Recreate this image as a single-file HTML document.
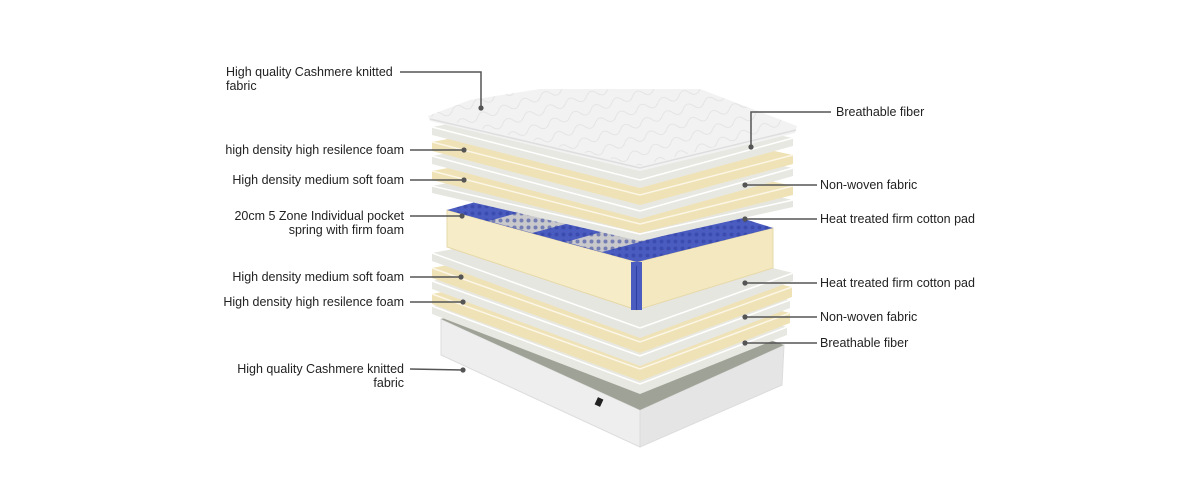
<!DOCTYPE html>
<html><head><meta charset="utf-8"><style>
html,body{margin:0;padding:0;background:#fff;}
svg{display:block}
text{font-family:"Liberation Sans",sans-serif;font-size:12.5px;fill:#222;}
</style></head><body>
<svg width="1201" height="504" viewBox="0 0 1201 504" xmlns="http://www.w3.org/2000/svg">
<defs>
<pattern id="dots" width="7" height="7" patternUnits="userSpaceOnUse">
<circle cx="3.5" cy="3.5" r="2" fill="#2f3f9e" opacity="0.55"/>
</pattern>
<pattern id="quilt" width="22" height="14" patternUnits="userSpaceOnUse" patternTransform="rotate(-18)">
<path d="M0 7 Q5.5 0 11 7 Q16.5 14 22 7" fill="none" stroke="#e0e0e0" stroke-width="0.8"/>
</pattern>
</defs>

<!-- base -->
<polygon points="441,319 640,410 640,447 441,355" fill="#efeeee" stroke="#dcdcdc" stroke-width="1"/>
<polygon points="640,410 784,345 782,385 640,447" fill="#e6e5e6" stroke="#dcdcdc" stroke-width="1"/>
<polygon points="441,319 585,272 784,345 640,410" fill="#9fa397"/>
<rect x="596" y="398" width="6" height="8" fill="#222" transform="rotate(25 599 402)"/>

<!-- lower layers -->
<polygon points="432,306 590,276 787,327 787,335 640,394 432,314" fill="#e8e8e2"/>
<polyline points="432,306 640,384 787,327" fill="none" stroke="#fff" stroke-width="1.5"/>
<polygon points="432,294 590,264 790,313 790,323 640,381 432,304" fill="#efe2b6"/>
<polyline points="432,294 640,369 790,313" fill="none" stroke="#fbf6e6" stroke-width="1.5"/>
<polygon points="432,281 590,251 790,300 790,308 640,366 432,289" fill="#e8e8e2"/>
<polyline points="432,281 640,356 790,300" fill="none" stroke="#fff" stroke-width="1.5"/>
<polygon points="432,268 590,238 792,287 792,297 640,353 432,278" fill="#efe2b6"/>
<polyline points="432,268 640,342 792,287" fill="none" stroke="#fbf6e6" stroke-width="1.5"/>
<polygon points="432,253 590,223 793,273 793,281 640,338 432,261" fill="#e6e6e0"/>
<polyline points="432,253 640,328 793,273" fill="none" stroke="#fff" stroke-width="1.5"/>

<!-- spring block -->
<polygon points="447,210 637,262 637,310 447,247" fill="#f6ecc8" stroke="#e6d8a8" stroke-width="1"/>
<polygon points="637,262 773,228 773,268 637,310" fill="#f4e8c0" stroke="#e6d8a8" stroke-width="1"/>
<polygon points="447,210 590,170 773,228 637,262" fill="#4a5cc0"/>
<polygon points="489,221 632,181 675,195 532,233" fill="#c9c9cc"/>
<polygon points="566,242 709,202 745,214 602,252" fill="#c9c9cc"/>
<polygon points="447,210 590,170 773,228 637,262" fill="url(#dots)"/>
<rect x="631" y="262" width="11" height="48" fill="#4a5cc0"/>
<line x1="636.5" y1="266" x2="636.5" y2="310" stroke="#2f3f9e" stroke-width="1"/>

<!-- upper layers -->
<polygon points="432,186 590,156 793,200 793,207 640,241 432,193" fill="#e6e6e0"/>
<polyline points="432,186 640,234 793,200" fill="none" stroke="#fff" stroke-width="1.5"/>
<polygon points="432,171 590,141 793,186 793,195 640,233 432,180" fill="#efe2b6"/>
<polyline points="432,171 640,224 793,186" fill="none" stroke="#fbf6e6" stroke-width="1.5"/>
<polygon points="432,156 590,126 793,168 793,176 640,219 432,164" fill="#e8e8e2"/>
<polyline points="432,156 640,211 793,168" fill="none" stroke="#fff" stroke-width="1.5"/>
<polygon points="432,142 590,112 793,155 793,164 640,205 432,151" fill="#efe2b6"/>
<polyline points="432,142 640,195 793,155" fill="none" stroke="#fbf6e6" stroke-width="1.5"/>
<polygon points="432,127 590,97 793,138 793,146 640,188 432,135" fill="#e8e8e2"/>
<polyline points="432,127 640,180 793,138" fill="none" stroke="#fff" stroke-width="1.5"/>

<!-- cover -->
<polygon points="428,116 470,100 540,89 700,89 797,126 795,133 640,171 430,121" fill="#f2f2f2"/>
<polygon points="428,116 470,100 540,89 700,89 797,126 640,166" fill="url(#quilt)"/>
<polyline points="430,119 640,168 796,130" fill="none" stroke="#dedede" stroke-width="1.5"/>

<!-- leader lines -->
<g stroke="#555" stroke-width="1.5" fill="none">
<polyline points="400,72 481,72 481,108"/>
<line x1="410" y1="150" x2="464" y2="150"/>
<line x1="410" y1="180" x2="464" y2="180"/>
<line x1="410" y1="216" x2="462" y2="216"/>
<line x1="410" y1="277" x2="461" y2="277"/>
<line x1="410" y1="302" x2="463" y2="302"/>
<line x1="410" y1="369" x2="463" y2="370"/>
<polyline points="831,112 751,112 751,147"/>
<line x1="745" y1="185" x2="817" y2="185"/>
<line x1="745" y1="219" x2="817" y2="219"/>
<line x1="745" y1="283" x2="817" y2="283"/>
<line x1="745" y1="317" x2="817" y2="317"/>
<line x1="745" y1="343" x2="817" y2="343"/>
</g>
<g fill="#555">
<circle cx="481" cy="108" r="2.6"/><circle cx="464" cy="150" r="2.6"/><circle cx="464" cy="180" r="2.6"/>
<circle cx="462" cy="216" r="2.6"/><circle cx="461" cy="277" r="2.6"/><circle cx="463" cy="302" r="2.6"/>
<circle cx="463" cy="370" r="2.6"/><circle cx="751" cy="147" r="2.6"/><circle cx="745" cy="185" r="2.6"/>
<circle cx="745" cy="219" r="2.6"/><circle cx="745" cy="283" r="2.6"/><circle cx="745" cy="317" r="2.6"/>
<circle cx="745" cy="343" r="2.6"/>
</g>

<!-- left labels -->
<text x="226" y="76">High quality Cashmere knitted</text>
<text x="226" y="90">fabric</text>
<text x="404" y="154" text-anchor="end">high density high resilence foam</text>
<text x="404" y="184" text-anchor="end">High density medium soft foam</text>
<text x="404" y="220" text-anchor="end">20cm 5 Zone Individual pocket</text>
<text x="404" y="234" text-anchor="end">spring with firm foam</text>
<text x="404" y="281" text-anchor="end">High density medium soft foam</text>
<text x="404" y="306" text-anchor="end">High density high resilence foam</text>
<text x="404" y="373" text-anchor="end">High quality Cashmere knitted</text>
<text x="404" y="387" text-anchor="end">fabric</text>

<!-- right labels -->
<text x="836" y="116">Breathable fiber</text>
<text x="820" y="189">Non-woven fabric</text>
<text x="820" y="223">Heat treated firm cotton pad</text>
<text x="820" y="287">Heat treated firm cotton pad</text>
<text x="820" y="321">Non-woven fabric</text>
<text x="820" y="347">Breathable fiber</text>
</svg>
</body></html>
